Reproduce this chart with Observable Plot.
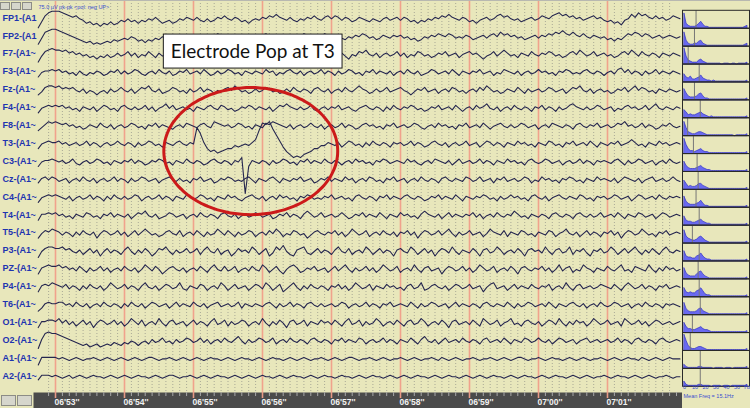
<!DOCTYPE html>
<html>
<head>
<meta charset="utf-8">
<script src="https://cdn.jsdelivr.net/npm/d3@7"></script>
<script src="https://cdn.jsdelivr.net/npm/@observablehq/plot@0.6"></script>
<style>
  body { margin: 0; background: #e8e7bb; }
  #wrap { position: relative; width: 750px; height: 408px; overflow: hidden; background: #e8e7bb; }
  #wrap svg { position: absolute; }
  .btn { position: absolute; background: #d6d6cc; border: 1px solid #8c8c86; box-sizing: border-box; }
</style>
</head>
<body>
<div id="wrap"></div>
<script>
// ---------------- DATA ----------------
const channels = ["FP1-(A1","FP2-(A1","F7-(A1~","F3-(A1~","Fz-(A1~","F4-(A1~","F8-(A1~","T3-(A1~","C3-(A1~","Cz-(A1~","C4-(A1~","T4-(A1~","T5-(A1~","P3-(A1~","PZ-(A1~","P4-(A1~","T6-(A1~","O1-(A1~","O2-(A1~","A1-(A1~","A2-(A1~"];
const secondTicks = [413,414,415,416,417,418,419,420,421];
const secondLabels = ["06'53''","06'54''","06'55''","06'56''","06'57''","06'58''","06'59''","07'00''","07'01''"];
const headerText = "75.0 \u00b5V pk-pk <pol: neg UP>";
const traceStart = 412.75, traceEnd = 422.05; // seconds covered by the traces

// trace amplitudes (display units, positive = up), 0.05 s per sample
const fp1 = [-6,-2,2,4,5,5,5,4,3,2,1,2,0,-1,-3,-2,-4,-3,-5,-3,-4,-2,-4,-3,-1,
 -2,0,-2,-1,-3,-1,-2,0,-1,1,-1,-3,-2,-1,-3,-2,0,-1,1,0,
 -1,1,-1,-2,0,-2,-1,1,0,2,0,-1,1,0,-2,-1,-3,-1,0,-1,
 1,0,2,1,3,1,0,-1,1,-1,-2,0,-1,1,0,2,0,-1,1,2,
 0,2,1,-1,1,0,-2,-1,1,0,-1,-2,0,-1,-2,0,1,-1,0,1,
 -1,1,0,-2,-1,-3,-1,-2,0,-1,1,0,2,1,3,1,0,-1,1,0,
 -2,-1,-3,-1,0,1,-1,0,2,3,1,2,0,-1,0,-2,-1,0,1,-1,
 0,2,1,0,2,3,4,2,3,1,2,0,1,-1,0,1,2,0,1,-1,
 -2,-1,-3,-2,-4,-1,0,3,1,4,2,3,1,0,2,0,1,-1,0,2,
 1,0];
const fp2 = [-5,-1,3,4,5,5,4,3,2,1,0,-1,-2,-3,-4,-3,-5,-4,-5,-4,-3,-4,-2,-3,-2,
 -1,-2,0,-1,-3,-2,-4,-2,-3,-1,-2,0,-1,-2,-1,-3,-2,0,-1,1,
 0,-1,1,0,-2,-1,0,2,1,0,-1,1,-1,-2,0,-1,-3,-2,-1,0,
 1,2,0,1,-1,0,-2,-1,0,1,-1,0,2,1,0,-1,1,0,2,1,
 -1,0,1,-1,-2,0,-1,1,0,2,1,-1,0,-2,-1,1,0,-1,1,0,
 1,-1,0,-2,-1,-3,-2,0,-1,1,0,2,1,0,2,1,-1,0,-1,1,
 0,-2,-1,0,1,-1,1,2,0,3,1,2,0,1,-1,0,-2,-1,0,1,
 -1,1,0,2,1,3,2,4,2,1,3,1,0,2,0,-1,1,0,-1,0,
 -2,-1,-3,-1,-2,0,2,1,3,2,0,2,1,-1,0,1,-1,0,1,0,
 -1,0];
const f7 = [-5,-1,2,3,4,3,3,2,3,1,2,0,1,-1,0,-2,-1,-3,-1,-2,0,-2,-1,1,-1,
 0,2,-1,1,-2,0,-1,2,0,-2,1,-1,0,2,-1,1,-2,-1,1,0,
 2,0,-1,1,-2,-1,1,3,0,2,-1,0,-2,1,-1,0,2,-1,-3,0,
 1,-1,2,0,3,1,-1,0,-2,1,0,-1,2,1,-1,0,-2,0,1,-1,
 0,2,-1,1,-1,-3,0,-1,2,1,3,0,-1,1,-2,0,1,-1,0,2,
 -1,1,-2,0,-1,2,1,-1,0,-2,-1,1,0,2,-1,0,1,-2,0,1,
 2,0,1,-1,-3,-1,0,2,-1,1,3,1,-1,0,-2,1,0,-1,2,0,
 -1,1,0,2,1,-1,0,-2,-1,1,2,0,3,1,-1,0,2,-1,0,1,
 -1,0,-2,-1,1,2,0,3,1,-1,2,0,-1,1,0,-2,1,0,-1,1,
 0,-1];
const f3 = [-3,0,1,1,2,1,2,0,1,-1,0,-2,1,-1,-2,0,-1,1,0,-2,-1,1,0,2,-1,
 1,-1,0,2,1,-1,-2,0,1,-1,2,0,-1,1,-2,-1,1,0,2,-1,
 0,1,-1,2,0,-2,-1,1,-1,0,2,1,-1,0,-2,1,0,-1,1,0,
 -1,2,0,1,-2,0,-1,1,2,0,-1,1,-2,0,1,-1,0,2,-1,1,
 0,-2,1,-1,0,2,1,-1,0,-2,1,0,2,-1,1,0,-1,1,-2,0,
 1,-1,2,0,-1,1,-2,-1,0,2,1,-1,0,1,-1,2,0,-2,1,0,
 -1,1,0,2,-1,0,1,-2,0,-1,2,1,0,-1,1,-2,0,1,-1,0,
 2,0,1,-1,0,-2,1,0,2,1,-1,0,-1,1,2,0,-1,1,0,-2,
 0,1,-1,2,3,0,2,-1,1,0,-2,1,-1,0,2,-1,1,0,-1,1,
 0,-1];
const fz = [-3,-1,2,3,3,2,3,1,2,1,2,0,-1,1,-2,0,-1,-3,-1,0,-2,1,-1,0,2,
 0,-1,1,-2,0,2,1,3,0,-1,1,-2,-1,0,2,1,-1,0,-2,1,
 -1,0,2,-1,1,0,-2,0,-1,1,2,0,3,1,-1,0,-2,-1,1,-1,
 0,2,1,-1,0,-2,-1,1,-1,2,0,-1,1,0,-2,1,2,0,-1,1,
 -2,0,1,-1,2,0,-1,1,3,1,0,-2,-1,1,-1,0,2,-1,0,1,
 2,0,-1,-3,-1,1,0,2,-1,0,1,-2,0,1,-1,2,1,-1,0,-2,
 0,1,-1,2,0,3,1,-1,0,-2,-1,1,0,-1,2,0,-2,1,-1,0,
 1,-1,0,2,1,-1,0,1,-2,0,2,1,3,0,-1,1,-2,0,1,-1,
 0,-2,-1,1,0,2,-1,1,3,0,2,1,-1,0,-2,1,0,-1,1,0,
 -1,0];
const f4 = [-3,0,1,2,1,2,1,2,0,1,-1,0,-2,1,0,-1,1,-2,0,2,1,-1,0,-2,1,
 2,0,-1,1,-1,0,2,-1,1,-2,0,1,3,0,2,-1,0,1,-1,0,
 -2,1,0,-1,1,2,0,-1,2,1,-1,0,-2,-1,1,0,2,1,-1,1,
 0,-1,1,-2,0,2,1,3,1,0,-1,1,-1,0,2,-1,-2,0,1,-1,
 1,0,2,-1,0,1,-1,-2,0,1,2,0,-1,1,0,-2,1,-1,2,0,
 -1,1,0,2,1,-1,0,-2,-1,1,0,2,-1,0,1,-1,2,0,-2,0,
 1,-1,2,0,1,3,0,-1,1,-2,0,1,-1,2,0,-1,1,0,-2,1,
 0,2,-1,1,0,-2,1,-1,0,2,3,1,0,-1,1,-1,0,2,1,-1,
 0,1,-2,0,-1,1,2,0,1,-1,0,2,-1,1,3,0,-1,1,0,-1,
 1,0];
const f8 = [-3,-1,1,3,2,3,2,1,2,0,1,-1,0,-2,-1,1,0,-1,2,0,-1,1,-2,0,1,
 -1,0,2,1,-1,0,-2,1,0,2,-1,1,0,-1,-2,0,1,-1,2,1,
 0,-1,1,2,0,-1,3,2,1,0,1,-1,0,2,1,-1,0,-2,1,0,
 -1,2,1,3,2,1,0,-1,1,-2,0,1,-1,0,2,0,-1,1,-2,0,
 1,-1,0,2,-1,1,0,-2,-1,1,2,0,1,-1,0,-2,1,0,2,-1,
 0,1,-1,0,2,1,-1,-2,0,1,-1,2,0,1,-1,0,-2,1,0,2,
 -1,0,1,-1,2,0,-2,0,1,2,0,-1,1,-1,0,2,1,-1,0,1,
 -2,0,1,-1,2,1,0,-1,1,0,-2,1,2,0,-1,1,0,2,-1,0,
 1,-1,0,2,1,3,0,1,-1,0,2,-1,1,0,-2,-1,1,0,2,0,
 -1,0];
const t3 = [-3,0,1,2,1,1,2,0,1,-1,0,1,-1,0,2,-1,1,0,-2,0,1,-1,0,2,0,
 -1,1,0,-2,1,-1,0,2,1,-1,0,-2,1,0,-1,1,2,0,-1,1,
 0,11,7,1,-3,-5,-4,-6,-5,-4,-3,-3,-1,-2,-1,0,-1,1,3,9,
 14,13,15,10,6,2,-2,-5,-7,-9,-8,-9,-7,-6,-5,-3,-3,-1,-1,1,
 0,-1,1,-2,0,2,1,-1,0,-2,1,-1,2,0,-1,1,0,-2,1,0,
 1,-1,0,2,-1,1,0,-2,-1,1,2,0,-1,1,-2,0,1,-1,0,2,
 -1,0,1,-2,0,2,1,-1,1,0,-2,1,0,-1,2,0,1,-1,0,-2,
 1,0,-1,2,1,-1,0,-2,1,0,2,-1,0,1,-1,2,0,-2,1,0,
 -1,1,0,2,-1,0,1,3,1,-1,0,-2,1,0,-1,2,0,1,-1,0,
 1,0];
const c3 = [-3,0,1,1,2,1,0,1,-1,0,2,-1,-2,0,1,-1,0,2,1,-1,0,-2,1,0,-1,
 1,0,2,-1,1,0,-2,-1,1,0,2,1,-1,0,-2,1,0,-1,2,0,
 -1,1,0,-2,-1,1,2,0,-1,1,0,-2,1,0,3,-21,-3,1,0,-1,
 1,0,-2,1,-1,0,2,1,-1,0,-2,1,0,2,-1,1,0,-1,2,0,
 -1,1,0,-2,0,1,-1,2,0,1,-1,0,-2,1,0,2,1,-1,0,1,
 0,-1,2,0,1,-1,-2,0,1,-1,2,1,0,-1,1,-2,0,2,-1,0,
 1,-1,0,2,-1,1,0,-2,1,0,-1,2,0,1,-1,0,-2,1,2,0,
 -1,0,2,1,-1,0,1,-2,0,1,-1,0,2,-1,1,0,-2,1,0,1,
 0,-1,1,2,0,-2,1,-1,0,2,1,-1,0,1,-2,0,1,-1,2,0,
 -1,0];
const cz = [-2,1,2,0,2,1,-1,0,1,-2,0,1,-1,2,0,-1,1,-2,0,1,-1,0,2,-1,1,
 0,-2,1,-1,0,2,1,-1,0,1,-2,0,1,2,0,-1,1,-1,0,-2,
 1,0,2,-1,0,1,-2,-1,1,0,2,1,-1,0,-1,1,2,0,-2,1,
 0,-1,1,2,0,-2,1,0,-1,1,0,2,-1,0,1,-2,-1,1,0,2,
 -1,1,0,-1,2,0,1,-2,0,1,-1,2,1,-1,0,-2,1,0,2,-1,
 0,1,-2,0,1,-1,2,0,-1,1,0,-2,1,2,0,-1,1,0,-1,2,
 1,-1,0,2,-1,0,1,-2,1,0,2,-1,0,1,-1,0,2,1,-2,0,
 -1,2,0,1,-1,0,-2,1,0,2,1,-1,0,-2,1,0,-1,2,0,1,
 0,-1,1,-2,0,2,1,0,-1,1,-2,0,1,2,-1,0,1,-1,0,2,
 0,-1];
const c4 = [-3,0,1,2,1,2,1,0,-1,1,-2,0,1,-1,0,2,-1,1,0,-2,1,-1,2,0,-1,
 1,-1,0,2,1,-2,0,1,-1,0,2,-1,1,0,-2,1,0,-1,2,1,
 -1,0,2,1,-1,0,-2,1,0,-1,2,0,1,-1,-2,0,1,2,0,-1,
 1,-2,0,1,-1,2,0,1,-1,0,-2,1,0,2,1,-1,0,-1,1,0,
 2,-1,0,1,-1,0,-2,1,2,0,-1,1,0,-2,1,0,2,-1,1,0,
 -1,1,2,0,-1,1,0,-2,-1,1,0,2,-1,1,0,-1,2,0,-2,1,
 0,-1,1,0,2,1,-1,0,-2,1,-1,0,2,0,1,-1,0,-2,1,2,
 0,-1,1,-2,0,1,2,0,-1,1,0,-1,2,1,-1,0,-2,1,0,1,
 -1,0,2,1,-1,0,1,-2,0,2,1,-1,0,1,-1,2,0,-1,1,0,
 1,0];
const t4 = [-3,1,1,2,1,2,0,1,-1,0,-2,1,0,-1,2,1,-1,0,-2,1,0,2,-1,1,0,
 -1,1,-2,0,2,1,3,0,-1,1,-2,-1,0,2,1,-1,0,1,-2,0,
 1,-1,2,0,-1,1,0,-2,1,2,0,-1,1,-2,0,1,-1,0,2,1,
 -1,0,1,-2,-1,1,0,2,-1,1,0,-2,1,3,1,-1,0,2,-1,0,
 1,-1,0,2,0,-2,-1,1,0,2,-1,1,0,-1,2,0,-2,1,0,-1,
 2,0,1,-1,0,-2,1,3,1,0,-1,1,-2,0,2,-1,1,0,-1,1,
 0,2,-1,1,-2,0,1,-1,2,0,-1,1,0,3,1,-1,0,-2,1,0,
 -1,1,0,-2,1,2,0,-1,1,0,-2,1,2,0,-1,1,-1,0,2,-1,
 0,1,-1,2,0,-2,1,0,-1,2,1,-1,0,1,-2,0,2,1,-1,0,
 1,0];
const t5 = [-3,0,2,1,3,2,1,-1,1,0,-2,1,-1,2,0,-1,1,-3,0,2,1,-1,0,2,-1,
 1,-2,0,2,-1,1,3,1,-1,0,-2,-1,1,2,0,-1,2,-2,0,1,
 -1,2,0,-2,1,-1,0,3,1,-1,2,0,-2,1,-1,0,2,1,-2,0,
 1,-1,2,0,3,1,-2,0,-1,2,1,-1,0,-3,-1,1,2,0,-1,1,
 0,2,-1,1,-2,0,3,1,-1,0,2,-2,0,1,-1,2,0,-1,1,-2,
 1,0,2,-1,1,-3,0,2,1,-1,0,2,-1,1,3,0,-2,1,-1,0,
 2,-1,0,1,-2,0,3,1,0,-1,2,-2,1,0,-1,2,1,-1,0,-2,
 1,0,-1,2,1,-2,0,1,3,0,-1,1,-2,0,2,-1,1,0,-2,1,
 0,2,-1,1,-3,0,2,1,-1,0,3,1,-1,0,-2,1,0,2,-1,0,
 1,0];
const p3 = [-4,0,2,3,3,2,2,3,1,2,0,-1,1,-2,0,2,-1,1,-3,0,2,-1,1,0,-2,
 1,3,0,-2,1,-1,2,0,-3,-1,2,1,3,0,-2,1,-1,0,2,-1,
 0,2,-2,1,3,0,-1,2,-2,0,1,-3,-1,2,0,1,-1,3,1,-2,
 0,2,-3,-1,3,1,4,0,-2,-3,1,2,3,-1,-2,0,2,-1,1,0,
 -2,1,3,0,-1,2,-2,0,1,-1,3,1,-2,0,2,-1,1,0,-3,1,
 2,0,-1,3,1,-2,0,2,-1,1,-3,0,2,1,-1,3,0,-2,1,0,
 -1,2,0,-3,1,2,-1,0,3,1,-2,0,1,-1,2,0,-3,1,2,0,
 1,-1,3,0,-2,1,2,-1,0,3,-2,1,0,2,-1,-3,1,0,2,-1,
 0,3,1,-2,0,2,-1,1,3,0,-2,1,-1,2,0,-2,1,3,0,-1,
 1,0];
const pz = [-3,1,2,3,2,2,3,1,2,0,1,-1,2,0,-2,1,-1,0,2,-1,1,-2,0,1,-1,
 2,0,-1,1,-2,0,3,1,-1,2,0,-3,-1,1,2,0,-1,1,-2,0,
 1,-1,2,0,-2,1,3,0,-1,2,-1,0,2,-2,0,1,-1,2,0,-1,
 3,1,-2,0,2,-1,-3,0,2,3,1,-2,-1,1,0,2,-1,0,1,-2,
 0,2,-1,1,3,0,-2,1,-1,0,2,-1,1,-2,0,3,1,-1,0,2,
 -2,0,1,-1,3,0,-2,1,2,-1,0,1,-3,0,2,1,-1,0,2,-1,
 1,-2,0,3,1,-1,0,2,-2,0,1,-1,2,0,-3,1,2,0,-1,1,
 0,2,-1,1,-2,0,3,-1,1,2,-2,0,-1,3,1,0,-2,1,0,-1,
 2,0,-1,1,3,-1,0,-2,2,1,0,-1,3,0,-2,1,-1,2,0,1,
 -1,0];
const p4 = [-3,1,2,1,3,2,1,0,2,-1,1,0,-2,1,-1,2,0,-1,1,-2,0,3,1,-1,0,
 2,-1,1,0,-2,1,3,0,-1,1,-2,0,2,1,-1,0,3,-1,-2,1,
 0,-1,2,1,-2,0,1,-1,3,1,-2,0,2,-1,0,1,-2,0,2,1,
 -1,3,1,-2,0,2,-3,-1,1,3,0,-2,1,-1,2,0,-1,1,0,-2,
 1,0,2,-1,1,-2,0,3,1,-1,0,2,-2,1,0,-1,2,0,1,-1,
 0,-2,1,2,-1,0,3,-2,-1,1,2,0,-1,1,-2,0,2,1,-1,0,
 2,-1,0,1,-3,0,2,3,-1,0,1,-2,0,2,-1,1,0,-1,2,0,
 -1,1,0,2,-2,0,1,-1,3,0,-2,1,2,-1,0,1,-1,0,2,1,
 0,-1,2,0,-2,1,3,1,-1,0,2,-1,1,0,-2,1,0,2,-1,0,
 1,0];
const t6 = [-4,-2,1,2,1,1,2,2,0,1,-1,2,0,-1,1,-2,0,1,-1,2,0,-1,1,0,-2,
 1,-1,2,0,-1,1,-2,0,2,1,-1,0,1,-2,0,2,-1,1,0,-1,
 2,0,-1,1,-2,0,1,2,-1,0,1,-1,0,2,-2,1,0,-1,1,0,
 -1,1,2,0,-2,1,-1,0,2,-1,1,0,-2,1,2,0,-1,1,-1,0,
 1,-1,0,2,1,-2,0,1,-1,0,2,-1,1,0,-2,1,0,2,-1,0,
 1,0,-1,2,0,-2,1,-1,0,2,1,-1,0,1,-2,0,2,-1,1,0,
 -1,1,0,-2,1,2,0,-1,1,0,-1,2,0,-2,1,-1,0,2,1,-1,
 0,1,-1,2,0,-2,1,0,-1,1,2,0,-1,1,-2,0,1,-1,2,0,
 -1,0,2,1,-1,0,1,-2,0,1,-1,2,0,-1,1,0,-2,1,0,1,
 0,-1];
const o1 = [-3,1,1,2,2,1,3,0,2,-1,1,-2,0,2,-1,1,-3,0,2,1,-1,0,2,-1,1,
 -2,0,3,1,-1,2,-2,0,1,-1,3,0,-2,1,2,-1,0,1,-2,0,
 2,-1,1,0,-2,1,3,-1,0,2,-2,1,-1,0,2,1,-2,0,1,-1,
 3,0,-2,1,-1,2,0,-3,1,2,-1,0,2,-2,1,0,-1,2,0,1,
 -1,2,0,-2,1,3,-1,0,2,-2,1,-1,0,3,1,-2,0,1,-1,2,
 0,-2,1,2,-1,0,3,1,-2,0,1,-1,2,0,-3,1,2,-1,0,1,
 -1,2,0,-2,3,1,-1,0,2,-2,0,1,3,-1,0,-2,1,2,0,-1,
 1,-2,0,2,1,-1,3,0,-2,1,-1,2,0,1,-2,0,3,1,-1,0,
 2,-1,0,1,-2,3,1,-1,0,2,-1,1,-2,0,2,1,-1,0,1,-1,
 0,1];
const o2 = [-5,1,5,6,5,5,4,3,2,1,0,-1,-2,-3,-2,-4,-3,-2,-4,-3,-2,-3,-1,-2,-3,
 -1,-2,0,-1,-3,-1,0,-2,1,-1,0,2,-1,0,-2,1,-1,0,2,1,
 -1,0,2,-1,1,-2,0,1,-1,2,0,-1,1,3,0,-2,1,-1,0,2,
 1,-1,0,2,-2,0,1,-1,2,0,-1,1,0,-2,1,2,0,-1,1,0,
 -2,1,0,2,-1,1,0,-1,2,1,-2,0,1,-1,0,2,-1,1,0,-2,
 1,0,-1,2,0,-2,1,3,0,-1,1,-2,0,2,-1,0,1,-1,2,0,
 -1,1,0,-2,1,2,-1,0,1,-1,2,0,-2,1,0,-1,2,1,-1,0,
 2,0,-1,1,-2,0,2,1,-1,0,1,-2,0,1,2,-1,0,1,-1,0,
 1,-1,0,2,-1,1,0,-2,1,2,0,-1,1,0,-2,1,2,0,-1,0,
 1,0];
const a1 = [-4,1,1,1,1,1,0,1,0,-1,0,1,0,-1,0,0,1,0,-1,0,1,0,-1,0,1,
 0,-1,0,1,0,-1,0,1,1,0,-1,0,0,1,0,-1,0,1,0,-1,
 0,1,0,-1,0,1,0,0,-1,0,1,0,-1,0,1,0,0,-1,0,1,
 0,-1,0,1,0,0,-1,0,1,0,-1,0,1,0,-1,0,0,1,0,-1,
 0,1,0,-1,0,1,1,0,-1,0,0,1,0,-1,0,1,0,-1,0,0,
 1,0,-1,0,1,0,-1,0,0,1,0,-1,1,0,-1,0,1,0,-1,0,
 0,1,0,-1,0,0,1,0,-1,0,1,0,-1,0,1,1,0,-1,0,0,
 1,0,-1,0,1,0,0,-1,0,1,0,-1,0,1,0,-1,0,0,1,0,
 -1,0,1,0,-1,0,1,0,0,-1,1,0,-1,0,1,0,-1,0,1,0,
 0,0];
const a2 = [-2,1,1,1,0,1,0,-1,0,1,-1,0,1,0,-1,0,1,0,0,-1,0,1,0,-1,0,
 1,0,-1,0,1,0,0,-1,0,1,0,-1,0,1,1,0,-1,0,0,1,
 0,-1,0,1,0,-1,0,1,0,0,-1,0,1,0,-1,0,1,0,-1,0,
 1,0,0,-1,0,1,0,-1,0,1,0,0,-1,0,1,0,-1,0,1,0,
 0,-1,0,1,0,0,-1,0,1,0,-1,0,1,0,0,-1,0,1,0,-1,
 0,1,0,-1,0,1,0,0,-1,0,1,0,-1,0,1,0,0,-1,0,1,
 0,-1,0,1,0,-1,0,1,0,0,-1,0,1,0,-1,0,1,0,0,-1,
 0,1,0,-1,0,1,0,0,-1,0,1,0,-1,0,1,0,-1,0,0,1,
 0,-1,0,1,0,0,-1,0,1,0,-1,0,1,0,-1,0,0,1,0,-1,
 0,0];
const traces = [fp1,fp2,f7,f3,fz,f4,f8,t3,c3,cz,c4,t4,t5,p3,pz,p4,t6,o1,o2,a1,a2];

// spectra: power per 2 Hz bin from 0 to 60 Hz (display units)
const specBins = [0,2,4,6,8,10,12,14,16,18,20,22,24,26,28,30,32,34,36,38,40,42,44,46,48,50,52,54,56,58,60];
const spectra = [
 [15,5,3,2,2,2,3,5,7,4,2,2,1,1,1,1,1,1,1,1,1,1,1,1,1,1,1,1,1,2,3],
 [14,6,3,2,2,3,3,5,6,3,2,1,1,1,1,1,1,1,1,1,1,1,1,1,1,1,1,1,1,2,3],
 [16,8,4,3,2,2,2,4,5,3,2,1,1,1,1,1,1,1,0,1,1,1,0,1,1,0,1,1,1,1,2],
 [8,5,4,6,3,3,4,5,7,4,3,2,2,1,2,1,1,1,1,1,1,1,1,1,1,1,1,1,1,1,2],
 [11,7,4,3,3,3,4,6,7,4,2,2,1,1,1,1,1,1,1,1,1,1,1,1,1,1,1,1,1,1,2],
 [8,6,3,4,3,3,4,5,6,4,3,2,1,2,1,1,1,1,1,1,1,1,1,1,1,1,1,1,1,1,2],
 [14,8,4,3,2,2,3,4,4,3,2,1,1,1,1,1,1,1,1,1,1,1,1,1,0,1,1,1,1,1,2],
 [15,9,5,3,3,2,3,4,5,3,2,2,1,1,1,1,1,1,1,1,1,1,1,1,1,1,1,1,1,1,2],
 [10,6,4,3,3,3,4,5,6,4,3,2,2,1,1,1,1,1,1,1,1,1,1,1,1,1,1,1,1,1,2],
 [9,6,3,4,3,3,4,6,6,4,3,2,1,1,1,1,1,1,1,1,1,1,1,1,1,1,1,1,1,1,2],
 [11,6,4,3,3,3,4,5,7,4,2,2,1,1,1,1,1,1,1,1,1,1,1,1,1,1,1,1,1,1,2],
 [9,5,4,4,3,3,4,5,6,4,3,2,2,1,1,1,1,1,1,1,1,1,1,1,1,1,1,1,1,1,2],
 [13,7,5,4,3,3,4,6,7,5,3,2,1,1,1,1,1,1,1,1,1,1,1,1,1,1,1,1,1,1,2],
 [10,5,4,4,3,3,5,6,8,5,3,2,2,1,1,1,1,1,1,1,1,1,1,1,1,1,1,1,1,1,2],
 [11,6,4,3,3,3,5,7,8,5,3,2,1,1,1,1,1,1,1,1,1,1,1,1,1,1,1,1,1,1,2],
 [9,5,4,5,4,4,6,7,9,6,3,2,2,1,1,1,1,1,1,1,1,1,1,1,1,1,1,1,1,1,2],
 [12,6,4,3,3,3,4,6,7,4,3,2,1,1,1,1,1,1,1,1,1,1,1,1,1,1,1,1,1,1,2],
 [10,6,4,4,3,3,4,5,6,4,3,3,2,1,1,1,1,1,1,1,1,1,1,1,1,1,1,1,1,1,2],
 [16,10,5,3,2,2,3,4,4,3,2,1,1,1,1,1,1,1,1,1,1,1,1,1,1,1,1,1,1,1,2],
 [4,2,1,1,1,1,1,2,2,1,1,1,1,1,0,1,1,1,1,0,1,1,1,0,1,1,1,1,1,1,2],
 [5,2,1,1,1,1,1,2,2,1,1,1,1,0,1,1,1,1,0,1,1,1,0,1,1,1,1,1,1,1,2]
];
const meanFreq = [11,9.5,3.5,14,9.5,15,3,8.5,12,13,11,14,7.5,14,13,14,15,7.5,5.5,15,15];
const freqTicks = [0,10,20,30,40,50];
const meanFreqLabel = "Mean Freq = 15.1Hz";

// annotations (time in s, position in channel rows)
const note = {text: "Electrode Pop at T3", t1: 414.57, t2: 417.16, r1: 0.88, r2: 2.78, t: 415.86, r: 1.86};
const ring = {t: 415.83, r: 7.39, rt: 1.26, rr: 3.55};

// ---------------- LAYOUT ----------------
const W = 750, H = 408, mainW = 682, mainH = 392;
const pxPerSec = 69, sec0Px = 55;          // 06'53'' sits at x = 55
const rowPx = 17.9, row0Px = 18.3;        // channel spacing
const gain = 1.5;                          // display sensitivity
const tMin = secondTicks[0] - sec0Px / pxPerSec;
const tMax = tMin + mainW / pxPerSec;
const yDom = h => [-row0Px / rowPx, (h - row0Px) / rowPx];
const ink = "#25264f";
const blue = "#1e34b0";

const rows = traces.flatMap((arr, ch) => arr.map((v, k) => ({
  ch, t: traceStart + k * (traceEnd - traceStart) / (arr.length - 1), v
})));
const tenths = d3.range(Math.ceil(tMin * 10) + 6, Math.floor(traceEnd * 10) + 1)
  .filter(d => d % 10 !== 0).map(d => d / 10);
const allTenths = d3.range(Math.ceil(tMin * 10) + 6, Math.floor(traceEnd * 10) + 1).map(d => d / 10);
const ellipse = d3.range(0, 361, 3).map(a => ({
  t: ring.t + ring.rt * Math.cos(a * Math.PI / 180),
  r: ring.r + ring.rr * Math.sin(a * Math.PI / 180)
}));

const wrap = document.getElementById("wrap");

const main = Plot.plot({
  width: mainW, height: mainH, margin: 0,
  style: {background: "transparent", fontFamily: "Liberation Sans, Arial, sans-serif"},
  x: {domain: [tMin, tMax], range: [0, mainW], axis: null},
  y: {domain: yDom(mainH), range: [0, mainH], axis: null},
  marks: [
    Plot.ruleX(tenths, {stroke: "#a9a996", strokeDasharray: "1,2", strokeWidth: 1}),
    Plot.ruleX(secondTicks, {stroke: "#f0a28c", strokeWidth: 1.6}),
    Plot.line(rows, {x: "t", y: d => d.ch - d.v * gain / rowPx, z: "ch", stroke: ink, strokeWidth: 1.1}),
    Plot.text(channels, {y: (d, i) => i, text: d => d, frameAnchor: "left", dx: 2, dy: -1,
      textAnchor: "start", fill: blue, fontWeight: "bold", fontSize: 9}),
    Plot.text([headerText], {frameAnchor: "top-left", dx: 38, dy: 5, textAnchor: "start",
      fill: "#3a4ed0", fontSize: 5.5}),
    Plot.line(ellipse, {x: "t", y: "r", stroke: "#cc1a1a", strokeWidth: 3, curve: "catmull-rom"}),
    Plot.rect([note], {x1: "t1", x2: "t2", y1: "r1", y2: "r2", fill: "white", stroke: "#1a1a1a", strokeWidth: 1}),
    Plot.text([note], {x: "t", y: "r", text: "text", fontFamily: "Lato, sans-serif", fontSize: 19, fill: "#111"})
  ]
});
main.style.left = "0px"; main.style.top = "0px";
wrap.appendChild(main);

const axis = Plot.plot({
  width: mainW, height: H - mainH, marginTop: 0, marginBottom: 0, marginRight: 0, marginLeft: 33,
  style: {background: "transparent", fontFamily: "Liberation Sans, Arial, sans-serif"},
  x: {domain: [tMin, tMax], range: [0, mainW], axis: null},
  marks: [
    Plot.frame({fill: "#4b4b4b", stroke: "none"}),
    Plot.ruleX(allTenths, {stroke: "#a8a8a8", insetBottom: 12, strokeWidth: 1}),
    Plot.ruleX(secondTicks, {stroke: "#e89a86", insetBottom: 10, strokeWidth: 1.6}),
    Plot.text(secondTicks, {x: d => d, text: (d, i) => secondLabels[i], frameAnchor: "bottom", dy: -4, dx: -1,
      textAnchor: "start", fill: "#f2f2f2", fontWeight: "bold", fontSize: 8.5})
  ]
});
axis.style.left = "0px"; axis.style.top = mainH + "px";
wrap.appendChild(axis);

const specRows = spectra.flatMap((arr, ch) => arr.map((h, j) => ({ch, f: specBins[j], h})));
const below = 10 / rowPx, above = 8 / rowPx;
const spec = Plot.plot({
  width: W - mainW, height: H, margin: 0,
  style: {background: "transparent", fontFamily: "Liberation Sans, Arial, sans-serif"},
  x: {domain: [0, 60], range: [2, 65], axis: null},
  y: {domain: yDom(H), range: [0, H], axis: null},
  marks: [
    Plot.areaY(specRows, {x: "f", y1: d => d.ch + below, y2: d => d.ch + below - d.h / rowPx, z: "ch",
      fill: "#6a6af0", stroke: "#3232c4", strokeWidth: 0.7}),
    Plot.ruleX(meanFreq, {x: d => d, y1: (d, i) => i - above, y2: (d, i) => i + below, stroke: "#777", strokeWidth: 1}),
    Plot.rect(channels, {y1: (d, i) => i - above, y2: (d, i) => i + below, fill: "none", stroke: "#2a2a2a",
      strokeWidth: 1, insetLeft: 0.5, insetRight: 0.5}),
    Plot.text(freqTicks, {x: d => d, text: d => String(d), frameAnchor: "bottom", dy: -20, fill: "#3a4ed0", fontSize: 5.5}),
    Plot.text(["Hz"], {x: 60, text: d => d, frameAnchor: "bottom", dy: -20, fill: "#3a4ed0", fontSize: 5.5}),
    Plot.text([meanFreqLabel], {frameAnchor: "bottom-left", dx: 1, dy: -11, textAnchor: "start", fill: "#3a4ed0", fontSize: 5.5})
  ]
});
spec.style.left = mainW + "px"; spec.style.top = "0px";
wrap.appendChild(spec);

// little window buttons and top border
[[0,2,10,8],[11,2,10,8],[22,2,10,8],[1,395,15,11],[17,395,15,11]].forEach(([x,y,w,h]) => {
  const b = document.createElement("div");
  b.className = "btn";
  Object.assign(b.style, {left: x + "px", top: y + "px", width: w + "px", height: h + "px"});
  wrap.appendChild(b);
});
const topLine = document.createElement("div");
Object.assign(topLine.style, {position: "absolute", left: "0", top: "0", width: W + "px", height: "1px", background: "#b8b8b0"});
wrap.appendChild(topLine);
</script>
</body>
</html>
